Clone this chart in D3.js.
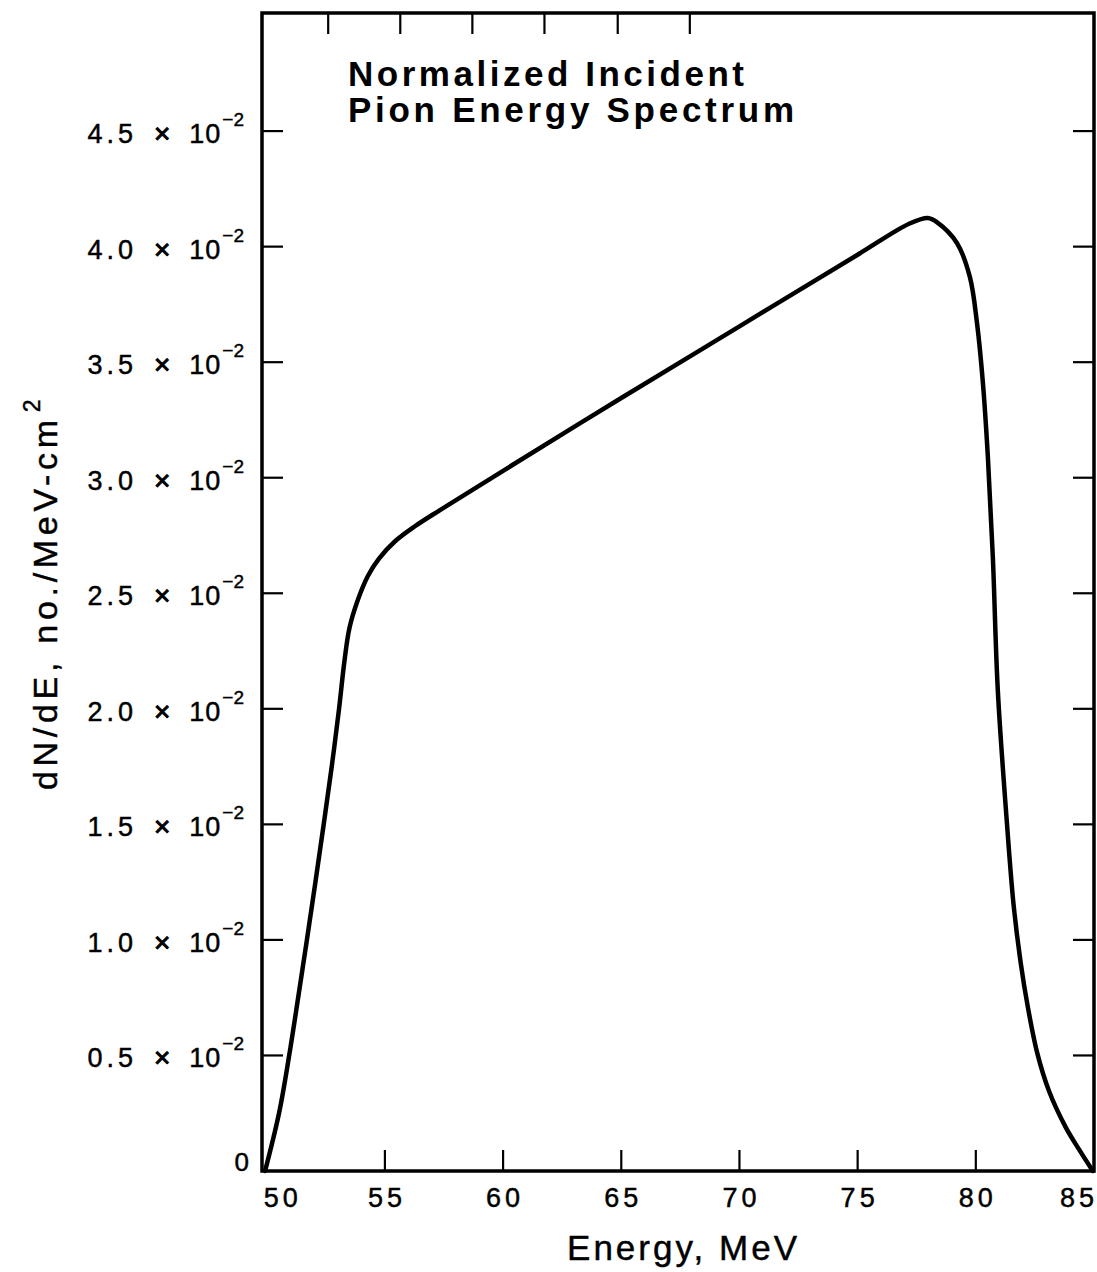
<!DOCTYPE html>
<html>
<head>
<meta charset="utf-8">
<script src="https://cdn.jsdelivr.net/npm/d3@7"></script>
<style>
  html, body { margin: 0; padding: 0; background: #fff; }
  svg { display: block; }
  text { font-family: "Liberation Sans", Arial, Helvetica, sans-serif; fill: #000; }
  .reg { stroke: #000; stroke-width: 0.45px; }
</style>
</head>
<body>
<svg id="chart" width="1097" height="1272"></svg>
<script>
// ---- data (dN/dE in units of 10^-2 per MeV-cm^2) ----
const energyMeV = [49.93, 50.52, 50.95, 51.33, 51.70, 52.06, 52.41, 52.75, 53.06, 53.28,
  53.50, 53.85, 54.28, 54.75, 55.43, 56.27, 57.33, 60.00, 65.00, 70.00,
  75.00, 77.20, 77.97, 78.35, 79.20, 79.75, 80.05, 80.30, 80.51, 80.72,
  80.93, 81.31, 81.60, 81.90, 82.20, 82.60, 83.10, 83.80, 84.40, 84.95];
const dNdE = [0.000, 0.250, 0.500, 0.750, 1.000, 1.250, 1.500, 1.750, 2.000, 2.200,
  2.350, 2.470, 2.575, 2.650, 2.725, 2.790, 2.860, 3.030, 3.345, 3.655,
  3.965, 4.100, 4.124, 4.106, 4.016, 3.868, 3.669, 3.410, 3.090, 2.657,
  2.081, 1.514, 1.150, 0.900, 0.710, 0.510, 0.345, 0.190, 0.088, 0.000];

const xTickValues = [50, 55, 60, 65, 70, 75, 80, 85];
const xTickLabels = ["50", "55", "60", "65", "70", "75", "80", "85"];
const yTickValues = [0, 0.5, 1.0, 1.5, 2.0, 2.5, 3.0, 3.5, 4.0, 4.5];
const yTickLabels = ["0", "0.5", "1.0", "1.5", "2.0", "2.5", "3.0", "3.5", "4.0", "4.5"];
const topTickValues = [52.6, 55.65, 58.7, 61.75, 64.85, 67.9];

const titleLines = ["Normalized Incident", "Pion Energy Spectrum"];
const xTitle = "Energy, MeV";
const yTitleMain = "dN/dE, no./MeV-cm";
const yTitleSup = "2";
const yBase = "10";
const yExponent = "\u22122";

// ---- layout ----
const L = 262, R = 1094, T = 13, B = 1171;
const svg = d3.select("#chart");

const x = d3.scaleLinear().domain([49.8, 85]).range([L, R]);
const y = d3.scaleLinear().domain([0, 5.011]).range([B, T]);

// curve
const line = d3.line()
  .x((d, i) => x(energyMeV[i]))
  .y((d, i) => y(dNdE[i]))
  .curve(d3.curveCatmullRom.alpha(0.5));

svg.append("path")
  .attr("d", line(energyMeV))
  .attr("fill", "none")
  .attr("stroke", "#000")
  .attr("stroke-width", 4.5)
  .attr("stroke-linejoin", "round")
  .attr("stroke-linecap", "round");

// frame
svg.append("rect")
  .attr("x", L).attr("y", T)
  .attr("width", R - L).attr("height", B - T)
  .attr("fill", "none").attr("stroke", "#000").attr("stroke-width", 3.5);

const tickLen = 21;
// bottom ticks (inward)
svg.append("g").selectAll("line").data(xTickValues.slice(1, -1)).join("line")
  .attr("x1", d => x(d)).attr("x2", d => x(d))
  .attr("y1", B).attr("y2", B - tickLen)
  .attr("stroke", "#000").attr("stroke-width", 2.2);
// top ticks
svg.append("g").selectAll("line").data(topTickValues).join("line")
  .attr("x1", d => x(d)).attr("x2", d => x(d))
  .attr("y1", T).attr("y2", T + tickLen)
  .attr("stroke", "#000").attr("stroke-width", 2.2);
// left & right ticks
const yTicksInner = yTickValues.slice(1);
svg.append("g").selectAll("line").data(yTicksInner).join("line")
  .attr("x1", L).attr("x2", L + tickLen)
  .attr("y1", d => y(d)).attr("y2", d => y(d))
  .attr("stroke", "#000").attr("stroke-width", 2.2);
svg.append("g").selectAll("line").data(yTicksInner).join("line")
  .attr("x1", R).attr("x2", R - tickLen)
  .attr("y1", d => y(d)).attr("y2", d => y(d))
  .attr("stroke", "#000").attr("stroke-width", 2.2);

// x tick labels
svg.append("g").selectAll("text").data(xTickValues).join("text")
  .attr("class", "reg")
  .attr("x", (d, i) => i === 0 ? x(d) - 3 : (i === xTickValues.length - 1 ? x(d) : x(d) + 2))
  .attr("y", 1207)
  .attr("text-anchor", (d, i) => i === 0 ? "start" : (i === xTickValues.length - 1 ? "end" : "middle"))
  .attr("font-size", 27)
  .attr("letter-spacing", (d, i) => i === xTickValues.length - 1 ? 0 : 4)
  .each(function(d, i) {
    const t = d3.select(this);
    if (i === xTickValues.length - 1) {
      t.append("tspan").text(xTickLabels[i][0]);
      t.append("tspan").attr("dx", 4).text(xTickLabels[i].slice(1));
    } else {
      t.text(xTickLabels[i]);
    }
  });

// y tick labels
const yl = svg.append("g").selectAll("text").data(yTickValues).join("text")
  .attr("class", "reg")
  .attr("x", (d, i) => i === 0 ? 249 : 244)
  .attr("y", d => d === 0 ? y(d) : y(d) + 12)
  .attr("text-anchor", "end")
  .attr("font-size", 27);
yl.each(function(d, i) {
  const t = d3.select(this);
  if (d === 0) { t.text(yTickLabels[i]).attr("font-size", 26); return; }
  t.append("tspan").attr("letter-spacing", 4).text(yTickLabels[i]);
  t.append("tspan").attr("dx", 17).attr("font-size", 28).attr("stroke-width", 1).text("\u00d7");
  t.append("tspan").attr("dx", 19).attr("letter-spacing", 1).text(yBase);
  t.append("tspan").attr("font-size", 19).attr("dy", -17).attr("dx", 1).text(yExponent);
});

// x title
svg.append("text")
  .attr("class", "reg")
  .attr("x", 682).attr("y", 1260)
  .attr("text-anchor", "middle")
  .attr("font-size", 35)
  .attr("textLength", 230).attr("lengthAdjust", "spacing")
  .text(xTitle);

// y title (rotated)
const yt = svg.append("text")
  .attr("class", "reg")
  .attr("transform", "translate(57,790) rotate(-90)")
  .attr("x", 0).attr("y", 0)
  .attr("text-anchor", "start")
  .attr("font-size", 34);
yt.append("tspan").attr("textLength", 370).attr("lengthAdjust", "spacing").text(yTitleMain);
yt.append("tspan").attr("font-size", 23).attr("dy", -17).attr("dx", 3).text(yTitleSup);

// title
svg.append("g").selectAll("text").data(titleLines).join("text")
  .attr("x", 348)
  .attr("y", (d, i) => 86 + i * 36)
  .attr("font-size", 35)
  .attr("font-weight", "bold")
  .attr("textLength", (d, i) => i === 0 ? 396 : 446)
  .attr("lengthAdjust", "spacing")
  .text(d => d);
</script>
</body>
</html>
